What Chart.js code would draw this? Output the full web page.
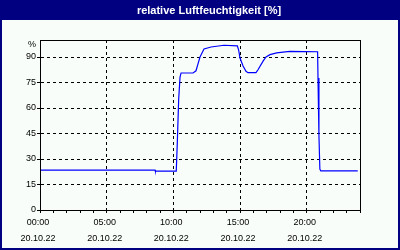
<!DOCTYPE html>
<html>
<head>
<meta charset="utf-8">
<script src="https://cdn.jsdelivr.net/npm/chart.js@4.4.3/dist/chart.umd.min.js"></script>
<style>
    html, body { margin: 0; padding: 0; background: #f8fdf9; }
    canvas { display: block; }
</style>
</head>
<body>
<canvas id="humidityChart" width="400" height="250"></canvas>
<script>
// chart values
const titleText = 'relative Luftfeuchtigkeit [%]';
const hours = [0, 8.63, 8.65, 10.22, 10.3, 10.4, 10.5, 10.58, 11.48, 11.7, 11.85, 12.0, 12.3, 12.83, 13.8,
    14.8, 14.9, 15.0, 15.23, 15.45, 15.6, 16.2, 16.35, 16.73, 16.95, 17.25, 17.75, 18.23, 18.75,
    20.82, 20.85, 20.92, 20.99, 21.06, 23.83];
const humidity = [23.5, 23.5, 22.9, 22.9, 40, 65, 78, 80.6, 80.6, 81.9, 86, 90, 94.7, 95.9, 96.9,
    96.6, 94, 89.4, 84.7, 81.6, 80.8, 80.8, 82.5, 87.6, 90, 91.4, 92.4, 92.9, 93.3,
    93.1, 77.6, 44, 24, 23, 23];
const hourTicks = [0, 1, 2, 3, 4, 5, 6, 7, 8, 9, 10, 11, 12, 13, 14, 15, 16, 17, 18, 19, 20, 21, 22, 23, 24];
const labelHours = [0, 5, 10, 15, 20];
const timeLabels = ['00:00', '05:00', '10:00', '15:00', '20:00'];
const dateLabel = '20.10.22';
const yTicks = [0, 15, 30, 45, 60, 75, 90];
const yUnitLabel = '%';

(function () {
    'use strict';

    const navy = '#000080';
    const bg = '#f8fdf9';
    const font = 'Liberation Sans, Arial, sans-serif';

    // background, title bar and frame
    const framePlugin = {
        id: 'frame',
        beforeDraw(chart) {
            const ctx = chart.ctx;
            ctx.save();
            ctx.fillStyle = bg;
            ctx.fillRect(0, 0, chart.width, chart.height);
            ctx.fillStyle = navy;
            ctx.fillRect(0, 0, chart.width, 20);
            ctx.fillRect(0, 0, 2, chart.height);
            ctx.fillRect(chart.width - 2, 0, 2, chart.height);
            ctx.fillRect(0, chart.height - 2, chart.width, 2);
            ctx.fillStyle = '#ffffff';
            ctx.font = 'bold 11px ' + font;
            ctx.textAlign = 'center';
            ctx.textBaseline = 'alphabetic';
            ctx.fillText(titleText, 209, 13.5);
            ctx.restore();
        },
        afterDraw(chart) {
            const ctx = chart.ctx;
            const a = chart.chartArea;
            ctx.save();
            ctx.strokeStyle = '#000000';
            ctx.lineWidth = 1;
            ctx.strokeRect(a.left + 0.5, a.top + 0.5, a.right - a.left, a.bottom - a.top);
            ctx.fillStyle = '#000000';
            ctx.font = '9px ' + font;
            ctx.textAlign = 'right';
            ctx.textBaseline = 'middle';
            ctx.fillText(yUnitLabel, 36, a.top + 4.5);
            ctx.restore();
        },
    };

    const ctx = document.getElementById('humidityChart').getContext('2d');
    // eslint-disable-next-line no-undef
    new Chart(ctx, {
        type: 'line',
        data: {
            datasets: [
                {
                    data: hours.map((h, i) => ({ x: h, y: humidity[i] })),
                    borderColor: '#0000ff',
                    borderWidth: 1.2,
                    pointRadius: 0,
                    tension: 0,
                    fill: false,
                },
            ],
        },
        options: {
            responsive: false,
            animation: false,
            devicePixelRatio: 1,
            layout: { padding: { top: 40, left: 0, right: 40, bottom: 0 } },
            plugins: {
                legend: { display: false },
                title: { display: false },
                tooltip: { enabled: false },
            },
            scales: {
                x: {
                    type: 'linear',
                    min: 0,
                    max: 24,
                    afterFit: (scale) => { scale.height = 40; },
                    afterBuildTicks: (scale) => { scale.ticks = hourTicks.map((v) => ({ value: v })); },
                    ticks: {
                        autoSkip: false,
                        maxRotation: 0,
                        color: '#000000',
                        padding: 2,
                        labelOffset: -2,
                        font: { family: font, size: 9, lineHeight: 1.74 },
                        callback: (value) => {
                            const i = labelHours.indexOf(value);
                            return i >= 0 ? [timeLabels[i], dateLabel] : '';
                        },
                    },
                    grid: {
                        color: (c) => (c.tick && labelHours.includes(c.tick.value) ? '#000000' : 'rgba(0,0,0,0)'),
                        tickColor: '#000000',
                        tickLength: 3,
                        lineWidth: 1,
                    },
                    border: { color: '#000000', width: 1, dash: [3, 3] },
                },
                y: {
                    min: 0,
                    max: 100,
                    afterFit: (scale) => { scale.width = 40; },
                    afterBuildTicks: (scale) => { scale.ticks = yTicks.map((v) => ({ value: v })); },
                    ticks: {
                        autoSkip: false,
                        color: '#000000',
                        padding: 1,
                        font: { family: font, size: 9 },
                        callback: (value) => String(value),
                    },
                    grid: {
                        color: '#000000',
                        tickColor: '#000000',
                        tickLength: 3,
                        lineWidth: 1,
                    },
                    border: { color: '#000000', width: 1, dash: [3, 3] },
                },
            },
        },
        plugins: [framePlugin],
    });
})();
</script>
</body>
</html>
